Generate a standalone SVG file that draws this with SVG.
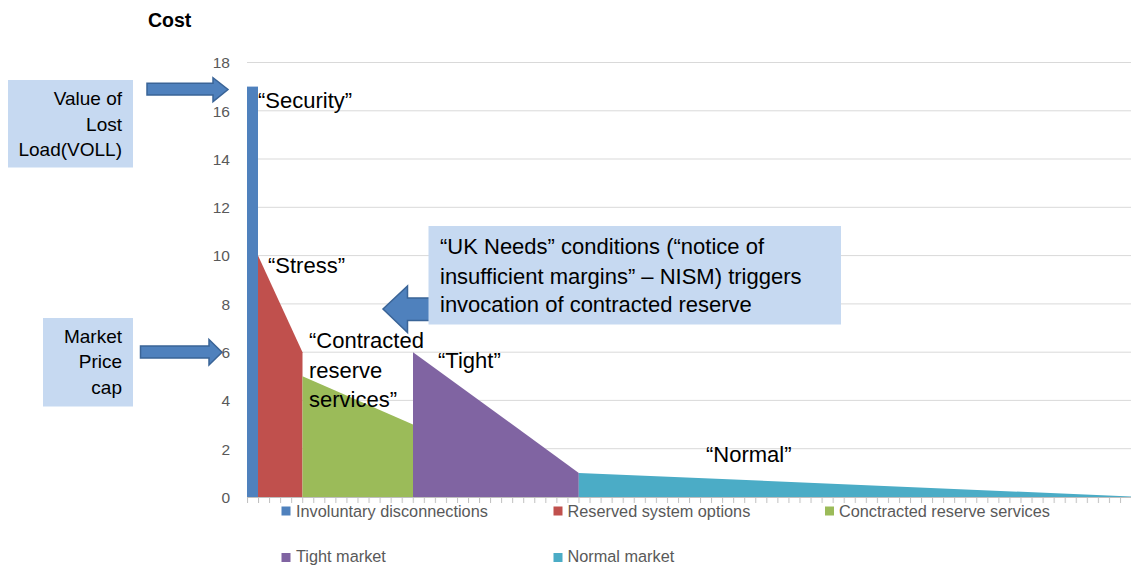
<svg xmlns="http://www.w3.org/2000/svg" width="1131" height="565" viewBox="0 0 1131 565">
<style>
.grid{stroke:#d9d9d9;stroke-width:1}
.ax{fill:#595959;font-family:"Liberation Sans",Arial,sans-serif;font-size:15.5px;text-anchor:end}
.lg{fill:#595959;font-family:"Liberation Sans",Arial,sans-serif;font-size:16.3px}
.lbl{fill:#000;font-family:"Liberation Sans",Arial,sans-serif;font-size:22px}
.box{fill:#c6d9f1}
.bt{fill:#000;font-family:"Liberation Sans",Arial,sans-serif;font-size:19px;text-anchor:end}
.arr{fill:#4f81bd;stroke:#3a6497;stroke-width:1.5}
</style>
<defs>
<pattern id="ticks" x="247" y="497" width="11.05" height="6" patternUnits="userSpaceOnUse">
<line x1="0.5" y1="0" x2="0.5" y2="6" stroke="#bfbfbf" stroke-width="1"/>
</pattern>
</defs>
<rect width="1131" height="565" fill="#fff"/>
<text x="148" y="27" font-family="Liberation Sans,Arial,sans-serif" font-size="19.5" font-weight="bold" fill="#000">Cost</text>
<g id="gridlines">
<line class="grid" x1="247" y1="448.7" x2="1131" y2="448.7"/>
<line class="grid" x1="247" y1="400.4" x2="1131" y2="400.4"/>
<line class="grid" x1="247" y1="352.2" x2="1131" y2="352.2"/>
<line class="grid" x1="247" y1="303.9" x2="1131" y2="303.9"/>
<line class="grid" x1="247" y1="255.6" x2="1131" y2="255.6"/>
<line class="grid" x1="247" y1="207.3" x2="1131" y2="207.3"/>
<line class="grid" x1="247" y1="159.0" x2="1131" y2="159.0"/>
<line class="grid" x1="247" y1="110.8" x2="1131" y2="110.8"/>
<line class="grid" x1="247" y1="62.5" x2="1131" y2="62.5"/>
</g>
<g id="yaxis">
<text class="ax" x="230" y="503">0</text>
<text class="ax" x="230" y="454.5">2</text>
<text class="ax" x="230" y="406.2">4</text>
<text class="ax" x="230" y="358">6</text>
<text class="ax" x="230" y="309.7">8</text>
<text class="ax" x="230" y="261.4">10</text>
<text class="ax" x="230" y="213.1">12</text>
<text class="ax" x="230" y="164.8">14</text>
<text class="ax" x="230" y="116.6">16</text>
<text class="ax" x="230" y="68.3">18</text>
</g>
<g id="series">
<rect x="247" y="86.6" width="11" height="410.4" fill="#4f81bd"/>
<polygon points="258,255.6 302.5,352.2 302.5,497 258,497" fill="#c0504d"/>
<polygon points="302.5,376.3 413,424.6 413,497 302.5,497" fill="#9bbb59"/>
<polygon points="413,352.2 578.8,472.9 578.8,497 413,497" fill="#8064a2"/>
<polygon points="578.8,472.9 1131,496.5 1131,497 578.8,497" fill="#4bacc6"/>
</g>
<g id="xaxis">
<line x1="247" y1="497.5" x2="1131" y2="497.5" stroke="#bfbfbf" stroke-width="1"/>
<rect x="247" y="497" width="884" height="6" fill="url(#ticks)"/>
</g>
<g id="legend">
<rect x="281.5" y="506.5" width="9" height="9" fill="#4f81bd"/>
<text class="lg" x="296" y="517">Involuntary disconnections</text>
<rect x="553.5" y="506.5" width="9" height="9" fill="#c0504d"/>
<text class="lg" x="567.5" y="517">Reserved system options</text>
<rect x="825" y="506.5" width="9" height="9" fill="#9bbb59"/>
<text class="lg" x="839" y="517">Conctracted reserve services</text>
<rect x="281.5" y="553" width="9" height="9" fill="#8064a2"/>
<text class="lg" x="296" y="562">Tight market</text>
<rect x="553.5" y="553" width="9" height="9" fill="#4bacc6"/>
<text class="lg" x="567.5" y="562">Normal market</text>
</g>
<g id="labels">
<text id="lbl-security" class="lbl" x="258" y="108">“Security”</text>
<text id="lbl-stress" class="lbl" x="268" y="273">“Stress”</text>
<text id="lbl-contracted" class="lbl" x="309"><tspan x="309" y="348">“Contracted</tspan><tspan x="309" y="377.5">reserve</tspan><tspan x="309" y="406.5">services”</tspan></text>
<text id="lbl-tight" class="lbl" x="438" y="368">“Tight”</text>
<text id="lbl-normal" class="lbl" x="706" y="462">“Normal”</text>
</g>
<g id="connectors">
<polygon class="arr" points="147,83.3 213,83.3 213,77.7 228,89.5 213,101.7 213,95 147,95"/>
<polygon class="arr" points="140.5,346 209,346 209,339.5 222,352.2 209,365 209,358 140.5,358"/>
<polygon class="arr" points="440,298 407.5,298 407.5,286 383,309 407.5,332.5 407.5,320.5 440,320.5"/>
</g>
<g id="node-voll">
<rect class="box" x="8" y="80" width="125" height="87.5"/>
<text class="bt" x="122"><tspan x="122" y="105">Value of</tspan><tspan x="122" y="130.5">Lost</tspan><tspan x="122" y="156">Load(VOLL)</tspan></text>
</g>
<g id="node-pricecap">
<rect class="box" x="43" y="318" width="90" height="88.5"/>
<text class="bt" x="122"><tspan x="122" y="343">Market</tspan><tspan x="122" y="368">Price</tspan><tspan x="122" y="393.5">cap</tspan></text>
</g>
<g id="node-ukneeds">
<rect class="box" x="428.5" y="226" width="412.5" height="98.5"/>
<text class="lbl" x="440"><tspan x="440" y="254">“UK Needs” conditions (“notice of</tspan><tspan x="440" y="283.5">insufficient margins” – NISM) triggers</tspan><tspan x="440" y="312">invocation of contracted reserve</tspan></text>
</g>
</svg>
